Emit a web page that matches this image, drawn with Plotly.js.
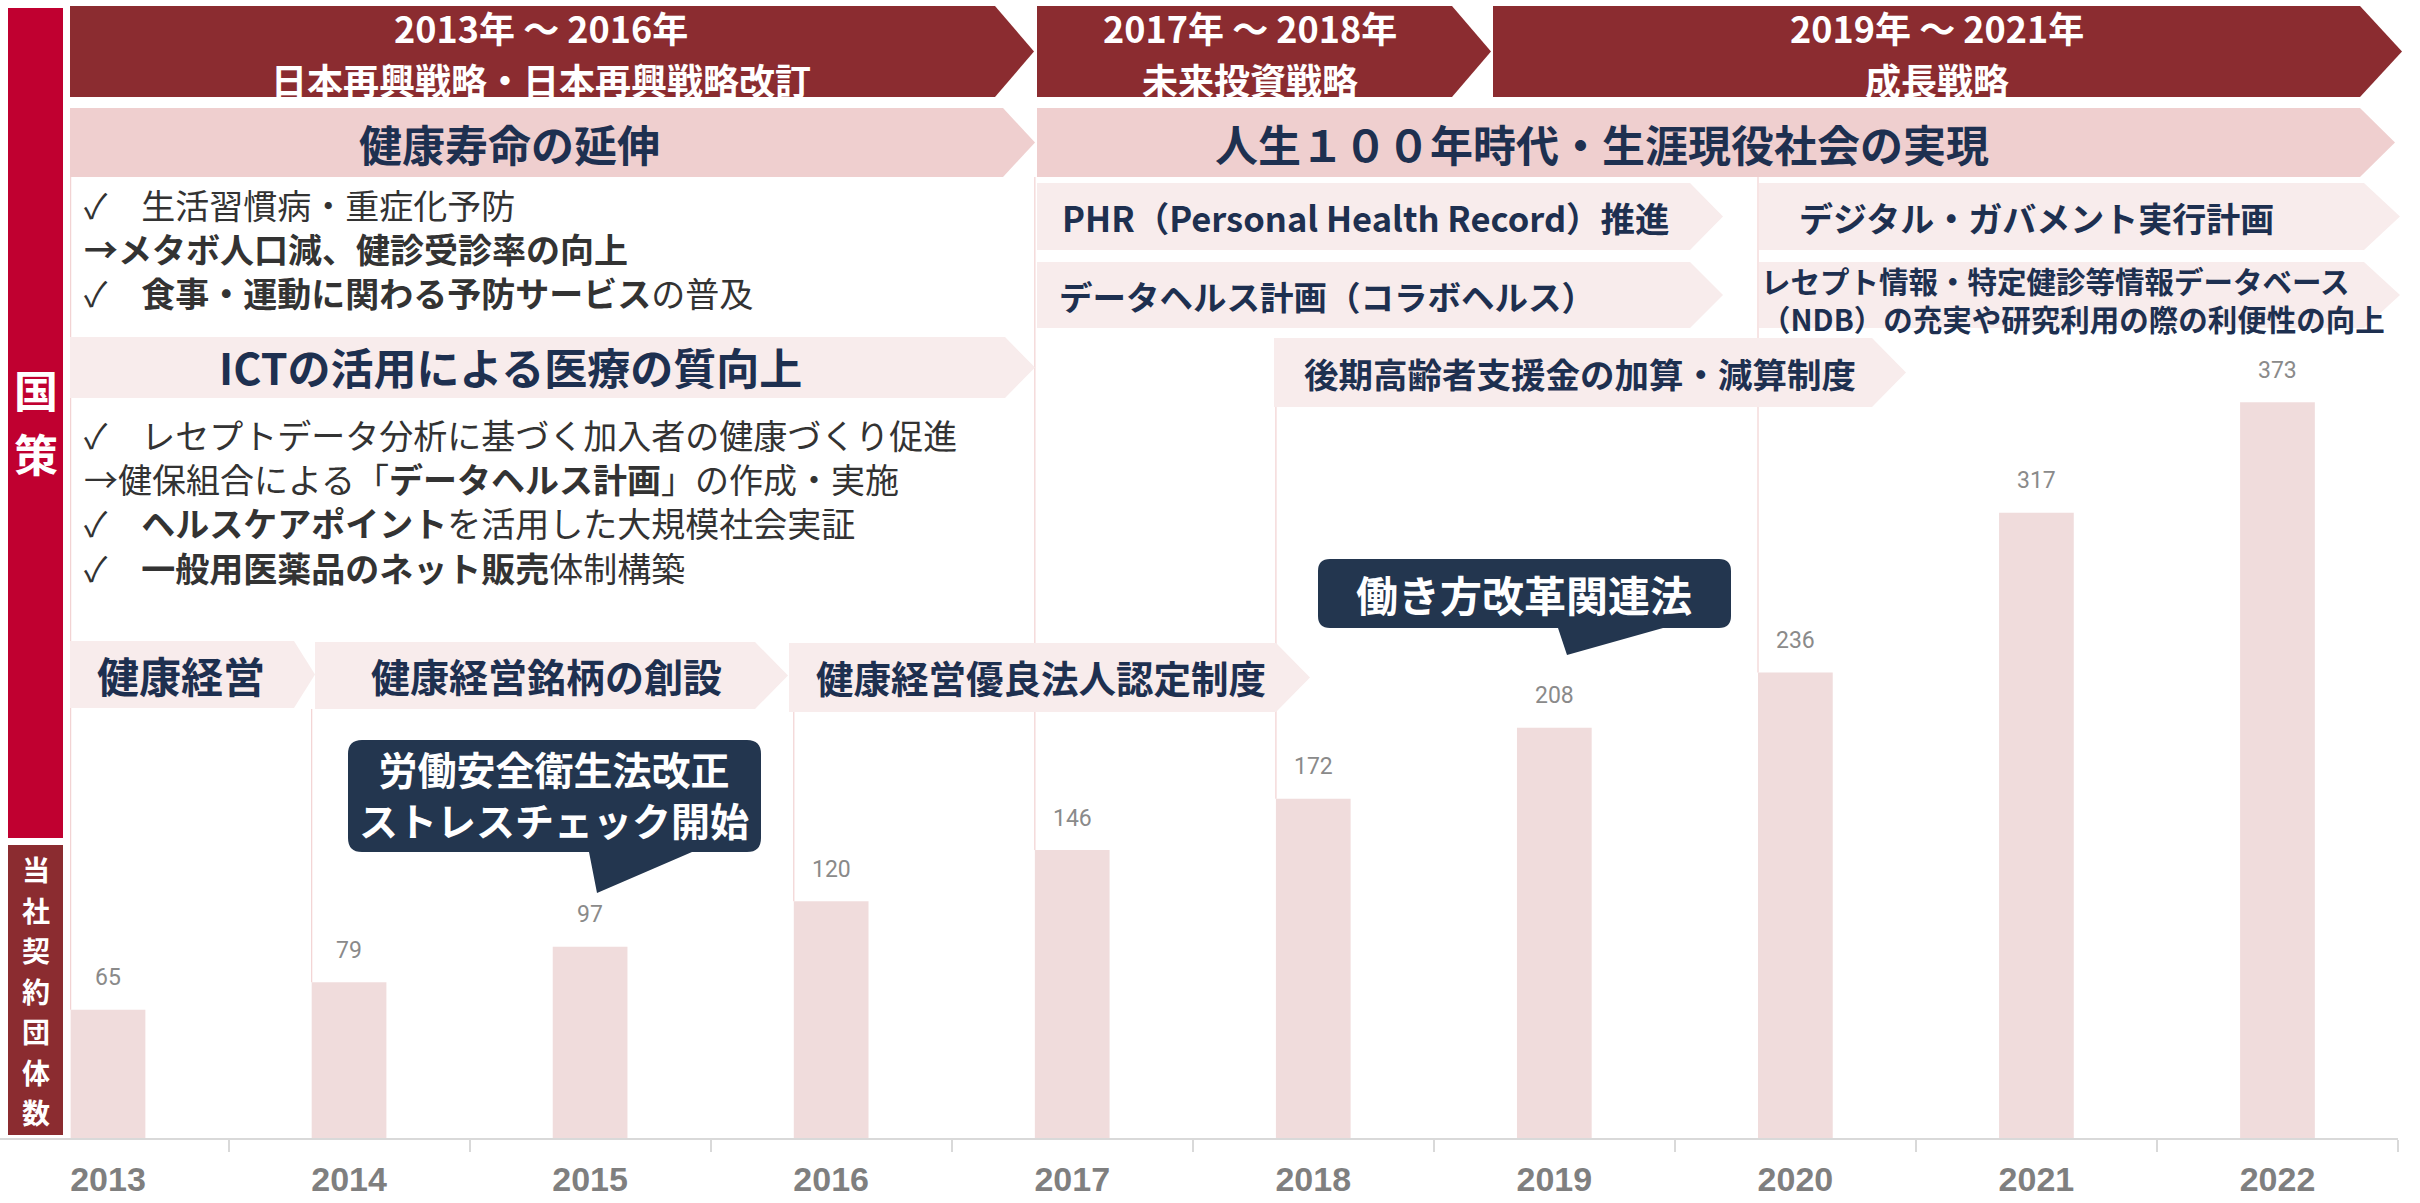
<!DOCTYPE html>
<html><head><meta charset="utf-8">
<script src="https://cdn.plot.ly/plotly-3.0.1.min.js"></script>
<style>html,body{margin:0;padding:0;background:#fff;} #chart{width:2420px;height:1203px;}</style>
</head><body><div id="chart"></div>
<script>
// ---------------- data ----------------
const years = ['2013','2014','2015','2016','2017','2018','2019','2020','2021','2022'];
const contracts = [65, 79, 97, 120, 146, 172, 208, 236, 317, 373];

const eraTitles = ['2013年 ～ 2016年', '2017年 ～ 2018年', '2019年 ～ 2021年'];
const eraStrategies = ['日本再興戦略・日本再興戦略改訂', '未来投資戦略', '成長戦略'];
const themes = ['健康寿命の延伸', '人生１００年時代・生涯現役社会の実現'];
const policies2017 = ['PHR（Personal Health Record）推進', 'データヘルス計画（コラボヘルス）', '後期高齢者支援金の加算・減算制度'];
const policies2019 = ['デジタル・ガバメント実行計画', 'レセプト情報・特定健診等情報データベース', '（NDB）の充実や研究利用の際の利便性の向上'];
const ictTheme = 'ICTの活用による医療の質向上';
const bulletsA = ['✓　生活習慣病・重症化予防', '<b>→メタボ人口減、健診受診率の向上</b>', '✓　<b>食事・運動に関わる予防サービス</b>の普及'];
const bulletsB = ['✓　レセプトデータ分析に基づく加入者の健康づくり促進', '→健保組合による「<b>データヘルス計画</b>」の作成・実施', '✓　<b>ヘルスケアポイント</b>を活用した大規模社会実証', '✓　<b>一般用医薬品のネット販売</b>体制構築'];
const kenkoKeiei = ['健康経営', '健康経営銘柄の創設', '健康経営優良法人認定制度'];
const callout1 = ['労働安全衛生法改正', 'ストレスチェック開始'];
const callout2 = ['働き方改革関連法'];
const sideLabels = ['国策', '当社契約団体数'];
const policyStartYears = ['2013', '2014', '2016', '2017', '2018', '2020'];

// ---------------- geometry / style ----------------
const W = 2420, H = 1203;
const plotBottomPx = 1138, plotRightPx = 2398;
const yMax = 577;
const barWidth = 0.31;
const FONT = 'Noto Sans CJK JP';
const NAVY = '#1E3050';
const DARKRED = '#8B2C30';
const CRIMSON = '#C00030';
const PINK = '#EFCFCF';
const PALE = '#F8ECEC';
const BAR = '#F0DCDC';
const LINEPINK = '#F2D2D2';

const px = x => x / W;
const py = y => 1 - y / H;
const pxPerUnit = plotBottomPx / yMax;
const pyData = y => (plotBottomPx - y) / pxPerUnit;

function chevron(x0, xb, xt, y0, y1, color) {
  const ym = (y0 + y1) / 2;
  return {type: 'path', xref: 'paper', yref: 'paper', layer: 'above',
    path: `M ${px(x0)} ${py(y0)} L ${px(xb)} ${py(y0)} L ${px(xt)} ${py(ym)} L ${px(xb)} ${py(y1)} L ${px(x0)} ${py(y1)} Z`,
    fillcolor: color, line: {width: 0}};
}
function rect(x0, y0, x1, y1, color) {
  return {type: 'rect', xref: 'paper', yref: 'paper', layer: 'above',
    x0: px(x0), x1: px(x1), y0: py(y0), y1: py(y1), fillcolor: color, line: {width: 0}};
}
function callout(x0, y0, x1, y1, r, bl, br, tx, ty, color) {
  const P = (x, y) => `${px(x)} ${py(y)}`;
  const path = `M ${P(x0 + r, y0)} L ${P(x1 - r, y0)} Q ${P(x1, y0)} ${P(x1, y0 + r)} L ${P(x1, y1 - r)} Q ${P(x1, y1)} ${P(x1 - r, y1)} L ${P(br, y1)} L ${P(tx, ty)} L ${P(bl, y1)} L ${P(x0 + r, y1)} Q ${P(x0, y1)} ${P(x0, y1 - r)} L ${P(x0, y0 + r)} Q ${P(x0, y0)} ${P(x0 + r, y0)} Z`;
  return {type: 'path', xref: 'paper', yref: 'paper', layer: 'above', path, fillcolor: color, line: {width: 0}};
}
function txt(text, x, y, size, color, opts) {
  return Object.assign({xref: 'paper', yref: 'paper', x: px(x), y: py(y), text: text,
    showarrow: false, xanchor: 'center', yanchor: 'middle',
    font: {family: FONT, size: size, color: color}}, opts || {});
}
const B = s => '<b>' + s + '</b>';

const shapes = [];
// policy start lines (from banner down to the bar of that year)
const lineStartsPx = [177, 709, 712, 177, 407, 177];
policyStartYears.forEach((yr, k) => {
  const i = years.indexOf(yr);
  shapes.push({type: 'line', xref: 'x', yref: 'y', layer: 'below',
    x0: i - barWidth / 2, x1: i - barWidth / 2, y0: contracts[i], y1: pyData(lineStartsPx[k]),
    line: {color: LINEPINK, width: 1.2}});
});
// top era banners
shapes.push(chevron(70, 995, 1034, 6, 97, DARKRED));
shapes.push(chevron(1037, 1452, 1491, 6, 97, DARKRED));
shapes.push(chevron(1493, 2360, 2402, 6, 97, DARKRED));
// theme banners
shapes.push(chevron(70, 1003, 1035, 108, 177, PINK));
shapes.push(chevron(1037, 2360, 2395, 108, 177, PINK));
// policy banners
shapes.push(chevron(1037, 1690, 1723, 183, 250, PALE));
shapes.push(chevron(1759, 2364, 2400, 183, 250, PALE));
shapes.push(chevron(1037, 1690, 1723, 262, 328, PALE));
shapes.push(chevron(1759, 2364, 2400, 262, 328, PALE));
shapes.push(chevron(1274, 1872, 1906, 338, 407, PALE));
shapes.push(chevron(70, 1005, 1035, 337, 398, PALE));
// 健康経営 banners
shapes.push(chevron(70, 294, 315, 641, 708, PALE));
shapes.push(chevron(315, 755, 788, 642, 709, PALE));
shapes.push(chevron(789, 1276, 1310, 643, 712, PALE));
// side label boxes
shapes.push(rect(8, 8, 63, 838, CRIMSON));
shapes.push(rect(8, 845, 63, 1135, DARKRED));
// callouts
shapes.push(callout(348, 740, 761, 852, 14, 589, 692, 597, 893, '#23364F'));
shapes.push(callout(1318, 559, 1731, 628, 12, 1558, 1663, 1567, 655, '#23364F'));

const ann = [];
// era banners (two lines each)
const eraCx = [541, 1250, 1937];
eraTitles.forEach((t, i) => {
  ann.push(txt(B(t), eraCx[i], 27, 36, '#FFFFFF'));
  ann.push(txt(B(eraStrategies[i]), eraCx[i], 79, 36, '#FFFFFF'));
});
ann.push(txt(B(themes[0]), 509, 143, 43, NAVY));
ann.push(txt(B(themes[1]), 1602, 143, 43, NAVY));
ann.push(txt(B(policies2017[0]), 1366, 217, 34.5, NAVY));
ann.push(txt(B(policies2017[1]), 1327, 295, 33.5, NAVY));
ann.push(txt(B(policies2017[2]), 1580, 373, 34.5, NAVY));
ann.push(txt(B(policies2019[0]), 2036, 217, 34, NAVY));
ann.push(txt(B(policies2019[1]) + '<br>' + B(policies2019[2]), 1759, 299, 29.5, NAVY, {xanchor: 'left', align: 'left'}));
ann.push(txt(B(ictTheme), 510, 366, 43, NAVY));
// bullet lists
ann.push(txt(bulletsA.join('<br>'), 82, 249, 34, '#333333', {xanchor: 'left', align: 'left'}));
ann.push(txt(bulletsB.join('<br>'), 82, 501, 34, '#333333', {xanchor: 'left', align: 'left'}));
// 健康経営 banners
ann.push(txt(B(kenkoKeiei[0]), 181, 674, 42, NAVY));
ann.push(txt(B(kenkoKeiei[1]), 546, 675, 39, NAVY));
ann.push(txt(B(kenkoKeiei[2]), 1041, 676, 37.5, NAVY));
// callouts
ann.push(txt(B(callout1[0]) + '<br>' + B(callout1[1]), 554, 793, 39, '#FFFFFF'));
ann.push(txt(B(callout2[0]), 1524, 593, 42, '#FFFFFF'));
// side labels (vertical, one character per line)
const side0 = sideLabels[0].split('');
side0.forEach((ch, k) => ann.push(txt(B(ch), 36, 389 + 64 * k, 44, '#FFFFFF')));
const side1 = sideLabels[1].split('');
side1.forEach((ch, k) => ann.push(txt(B(ch), 36, 869 + 40.5 * k, 28, '#FFFFFF')));
// data labels above bars
years.forEach((yr, i) => {
  ann.push({xref: 'x', yref: 'y', x: i, y: contracts[i], yshift: 32, text: String(contracts[i]),
    showarrow: false, xanchor: 'center', yanchor: 'middle',
    font: {family: 'Roboto', size: 23, color: '#8A8A8A'}});
});

const data = [{
  type: 'bar', x: years, y: contracts, width: barWidth,
  marker: {color: BAR, line: {width: 0}}, hoverinfo: 'skip', showlegend: false
}];

const layout = {
  width: W, height: H,
  margin: {l: 0, r: 0, t: 0, b: 0, pad: 0},
  paper_bgcolor: '#FFFFFF', plot_bgcolor: 'rgba(0,0,0,0)',
  showlegend: false,
  xaxis: {
    type: 'category', domain: [0, plotRightPx / W], range: [-0.448, 9.5],
    showline: true, linecolor: '#D9D9D9', linewidth: 2,
    ticks: 'outside', tickson: 'boundaries', ticklen: 12, tickcolor: '#D9D9D9', tickwidth: 2,
    showgrid: false, zeroline: false, ticklabelstandoff: 10,
    tickfont: {family: 'Liberation Sans', size: 34, color: '#7F7F7F', weight: 'bold'},
    fixedrange: true
  },
  yaxis: {
    domain: [1 - plotBottomPx / H, 1], range: [0, yMax], visible: false,
    showgrid: false, zeroline: false, fixedrange: true
  },
  shapes: shapes,
  annotations: ann
};

Plotly.newPlot('chart', data, layout, {staticPlot: true, displayModeBar: false});
</script>
</body></html>
